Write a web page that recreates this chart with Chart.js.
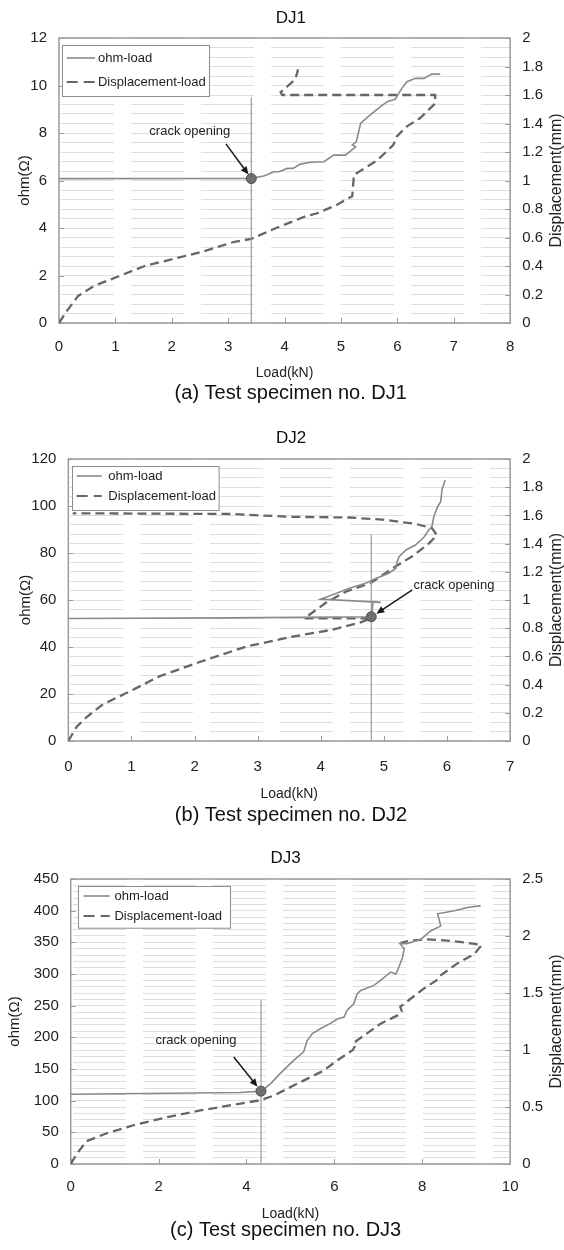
<!DOCTYPE html>
<html>
<head>
<meta charset="utf-8">
<script src="https://cdn.jsdelivr.net/npm/chart.js@4.4.1/dist/chart.umd.min.js"></script>
<style>
body{margin:0;background:#fff;}
canvas{display:block;}
</style>
</head>
<body>
<canvas id="dj1" width="564" height="410"></canvas>
<canvas id="dj2" width="564" height="420"></canvas>
<canvas id="dj3" width="564" height="420"></canvas>
<script>
var FONT = '"Liberation Sans", Arial, Helvetica, sans-serif';
Chart.defaults.font.family = FONT;
Chart.defaults.color = '#222';

var OHM_COLOR = '#8a8a8a';
var DISP_COLOR = '#666666';

// DJ1
var dj1OhmLoad  = [0, 3.41, 3.63, 3.70, 3.81, 3.90, 4.05, 4.15, 4.28, 4.46, 4.70, 4.87, 5.08, 5.26, 5.20, 5.27, 5.35, 5.52, 5.70, 5.82, 5.96, 6.08, 6.17, 6.32, 6.47, 6.61, 6.76];
var dj1Ohm      = [6.08, 6.09, 6.19, 6.25, 6.37, 6.37, 6.51, 6.51, 6.69, 6.77, 6.79, 7.07, 7.07, 7.42, 7.50, 7.62, 8.41, 8.76, 9.11, 9.32, 9.42, 9.88, 10.16, 10.30, 10.30, 10.48, 10.48];
var dj1DispLoad = [0, 0.15, 0.34, 0.62, 1.07, 1.52, 2.03, 2.54, 3.11, 3.41, 3.81, 4.38, 4.58, 4.93, 5.20, 5.23, 5.64, 5.93, 5.99, 6.17, 6.41, 6.67, 6.67, 3.96, 3.93, 4.05, 4.19, 4.24];
var dj1Disp     = [0, 0.09, 0.19, 0.26, 0.33, 0.40, 0.45, 0.50, 0.57, 0.59, 0.66, 0.75, 0.77, 0.83, 0.89, 1.04, 1.14, 1.25, 1.31, 1.38, 1.44, 1.54, 1.60, 1.60, 1.62, 1.66, 1.71, 1.78];
var dj1Crack    = [3.41, 6.08];
var dj1CrackTop = 9.5;

// DJ2
var dj2OhmLoad  = [0, 2.55, 4.80, 4.83, 4.95, 4.00, 4.24, 4.45, 4.71, 4.87, 5.08, 5.19, 5.21, 5.24, 5.35, 5.50, 5.64, 5.71, 5.76, 5.79, 5.85, 5.90, 5.92, 5.97];
var dj2Ohm      = [52.1, 52.4, 52.9, 59.3, 59.0, 60.4, 62.8, 65.0, 67.1, 69.2, 71.4, 73.5, 76.3, 78.4, 81.3, 83.4, 86.9, 89.8, 91.2, 95.4, 99.7, 101.8, 106.8, 111.1];
var dj2DispLoad = [0, 0.13, 0.29, 0.55, 0.92, 1.45, 2.08, 2.82, 3.55, 4.19, 4.62, 4.80, 3.74, 4.08, 4.40, 4.79, 5.19, 5.45, 5.71, 5.84, 5.76, 5.50, 4.98, 4.45, 3.50, 2.60, 0.07];
var dj2Disp     = [0, 0.10, 0.17, 0.26, 0.34, 0.46, 0.56, 0.67, 0.74, 0.79, 0.84, 0.87, 0.87, 0.98, 1.06, 1.12, 1.24, 1.31, 1.40, 1.46, 1.51, 1.54, 1.57, 1.585, 1.59, 1.61, 1.615];
var dj2Crack    = [4.80, 52.9];
var dj2CrackTop = 88;

// DJ3
var dj3OhmLoad  = [0, 3.86, 4.33, 4.55, 4.77, 5.08, 5.30, 5.38, 5.50, 5.69, 5.91, 6.07, 6.22, 6.29, 6.44, 6.52, 6.60, 6.90, 7.05, 7.28, 7.40, 7.47, 7.55, 7.59, 7.49, 7.65, 7.97, 8.19, 8.42, 8.35, 8.73, 9.03, 9.33];
var dj3Ohm      = [110.2, 112.9, 115, 127, 143, 164, 177, 195, 206, 214, 222, 229, 232, 243, 253, 269, 274, 282, 290, 303, 300, 311, 326, 340, 348, 348, 355, 368, 376, 395, 400, 405, 408];
var dj3DispLoad = [0, 0.14, 0.36, 0.82, 1.43, 2.19, 2.95, 3.71, 4.32, 4.62, 5.08, 5.76, 6.07, 6.42, 6.46, 6.43, 7.05, 7.47, 7.53, 7.50, 8.04, 8.36, 8.40, 8.80, 9.18, 9.35, 9.03, 8.57, 8.12, 7.74, 7.51];
var dj3Disp     = [0, 0.09, 0.20, 0.27, 0.34, 0.41, 0.47, 0.52, 0.56, 0.60, 0.69, 0.82, 0.91, 1.00, 1.03, 1.06, 1.23, 1.31, 1.34, 1.38, 1.54, 1.62, 1.65, 1.76, 1.84, 1.92, 1.94, 1.96, 1.97, 1.96, 1.94];
var dj3Crack    = [4.33, 115];
var dj3CrackTop = 259;

function pts(xs, ys){
	var out = [];
	for (var i = 0; i < xs.length; i++) out.push({x: xs[i], y: ys[i]});
	return out;
}

function isMajor(v, step){
	return Math.abs(v / step - Math.round(v / step)) < 1e-6;
}

function numLabel(v){
	return String(Math.round(v * 100) / 100);
}

// frame, inward ticks, legend box, note + arrow, right axis title
var decor = {
	id: 'decor',
	beforeDatasetsDraw: function(chart, args, o){
		var a = chart.chartArea, ctx = chart.ctx;
		var sx = chart.scales.x, sy = chart.scales.y, sy1 = chart.scales.y1;
		ctx.save();
		ctx.strokeStyle = '#9a9a9a';
		ctx.lineWidth = 1;
		ctx.beginPath();
		sx.ticks.forEach(function(t){
			var p = Math.round(sx.getPixelForValue(t.value)) + 0.5;
			ctx.moveTo(p, a.bottom); ctx.lineTo(p, a.bottom - 5);
		});
		sy.ticks.forEach(function(t){
			if (!isMajor(t.value, o.yMajor)) return;
			var p = Math.round(sy.getPixelForValue(t.value)) + 0.5;
			ctx.moveTo(a.left, p); ctx.lineTo(a.left + 5, p);
		});
		sy1.ticks.forEach(function(t){
			var p = Math.round(sy1.getPixelForValue(t.value)) + 0.5;
			ctx.moveTo(a.right, p); ctx.lineTo(a.right - 5, p);
		});
		ctx.stroke();
		ctx.lineWidth = 1.5;
		ctx.strokeRect(a.left, a.top, a.right - a.left, a.bottom - a.top);
		ctx.restore();
	},
	afterDatasetsDraw: function(chart, args, o){
		var a = chart.chartArea, ctx = chart.ctx;
		var sx = chart.scales.x, sy = chart.scales.y;
		var L = o.legend;
		var ds = chart.data.datasets;
		ctx.save();

		// legend
		var lx = Math.round(a.left + L.x) + 0.5, ly = Math.round(a.top + L.y) + 0.5;
		ctx.fillStyle = '#fff';
		ctx.fillRect(lx, ly, L.w, L.h);
		ctx.strokeStyle = '#8c8c8c';
		ctx.lineWidth = 1;
		ctx.strokeRect(lx, ly, L.w, L.h);
		ctx.strokeStyle = OHM_COLOR;
		ctx.lineWidth = 1.6;
		ctx.beginPath();
		ctx.moveTo(a.left + L.lineX1, a.top + L.row1);
		ctx.lineTo(a.left + L.lineX2, a.top + L.row1);
		ctx.stroke();
		ctx.strokeStyle = DISP_COLOR;
		ctx.lineWidth = 2.2;
		ctx.setLineDash([11, 6]);
		ctx.beginPath();
		ctx.moveTo(a.left + L.lineX1, a.top + L.row2);
		ctx.lineTo(a.left + L.lineX2, a.top + L.row2);
		ctx.stroke();
		ctx.setLineDash([]);
		ctx.fillStyle = '#222';
		ctx.font = '13px ' + FONT;
		ctx.textAlign = 'left';
		ctx.textBaseline = 'middle';
		ctx.fillText(ds[1].label, a.left + L.textX, a.top + L.row1);
		ctx.fillText(ds[3].label, a.left + L.textX, a.top + L.row2);

		// crack opening note
		var n = o.note;
		ctx.textAlign = 'center';
		ctx.fillText(n.text, sx.getPixelForValue(n.x), sy.getPixelForValue(n.y));
		var x1 = sx.getPixelForValue(n.fromX), y1 = sy.getPixelForValue(n.fromY);
		var x2 = sx.getPixelForValue(n.toX), y2 = sy.getPixelForValue(n.toY);
		var ang = Math.atan2(y2 - y1, x2 - x1);
		ctx.strokeStyle = '#1a1a1a';
		ctx.lineWidth = 1.5;
		ctx.beginPath();
		ctx.moveTo(x1, y1);
		ctx.lineTo(x2 - 6 * Math.cos(ang), y2 - 6 * Math.sin(ang));
		ctx.stroke();
		ctx.fillStyle = '#1a1a1a';
		ctx.beginPath();
		ctx.moveTo(x2, y2);
		ctx.lineTo(x2 - 8 * Math.cos(ang) + 3.5 * Math.sin(ang), y2 - 8 * Math.sin(ang) - 3.5 * Math.cos(ang));
		ctx.lineTo(x2 - 8 * Math.cos(ang) - 3.5 * Math.sin(ang), y2 - 8 * Math.sin(ang) + 3.5 * Math.cos(ang));
		ctx.closePath();
		ctx.fill();

		// right axis title reads bottom-to-top like the left one
		ctx.fillStyle = '#222';
		ctx.font = '16px ' + FONT;
		ctx.translate(chart.width - o.rightTitleInset, (a.top + a.bottom) / 2);
		ctx.rotate(-Math.PI / 2);
		ctx.textAlign = 'center';
		ctx.textBaseline = 'middle';
		ctx.fillText(o.rightTitle, 0, 0);
		ctx.restore();
	}
};

function makeChart(id, c){
	return new Chart(document.getElementById(id), {
		type: 'scatter',
		data: {
			datasets: [
				{
					label: 'crack',
					data: [{x: c.crack[0], y: c.crack[1]}],
					yAxisID: 'y',
					showLine: false,
					pointRadius: 5,
					pointBackgroundColor: '#707070',
					pointBorderColor: '#505050',
					pointBorderWidth: 1
				},
				{
					label: 'ohm-load',
					data: pts(c.ohmX, c.ohmY),
					yAxisID: 'y',
					showLine: true,
					borderColor: OHM_COLOR,
					borderWidth: 1.6,
					pointRadius: 0,
					tension: 0
				},
				{
					label: 'crack line',
					data: [{x: c.crack[0], y: 0}, {x: c.crack[0], y: c.crackTop}],
					yAxisID: 'y',
					showLine: true,
					borderColor: '#9c9c9c',
					borderWidth: 1.2,
					pointRadius: 0
				},
				{
					label: 'Displacement-load',
					data: pts(c.dispX, c.dispY),
					yAxisID: 'y1',
					showLine: true,
					borderColor: DISP_COLOR,
					borderWidth: 2.3,
					borderDash: [9, 5],
					pointRadius: 0,
					tension: 0
				}
			]
		},
		options: {
			responsive: false,
			animation: false,
			devicePixelRatio: 1,
			layout: {padding: {left: c.padLeft, right: 0, top: 0, bottom: 0}},
			scales: {
				x: {
					type: 'linear',
					min: 0,
					max: c.xMax,
					ticks: {stepSize: c.xStep, padding: c.xTickPad, font: {size: 15}, color: '#222', callback: numLabel},
					grid: {display: false, drawTicks: false},
					border: {display: false},
					title: {display: true, text: 'Load(kN)', font: {size: 14}, color: '#222', padding: {top: c.xTitlePad, bottom: 0}}
				},
				y: {
					type: 'linear',
					position: 'left',
					min: 0,
					max: c.yMax,
					ticks: {
						stepSize: c.yMinor,
						autoSkip: false,
						maxTicksLimit: 1000,
						padding: 12,
						font: {size: 15},
						color: '#222',
						callback: function(v){ return isMajor(v, c.yMajor) ? numLabel(v) : ''; }
					},
					grid: {color: '#dedede', lineWidth: 1, drawTicks: false},
					border: {display: false, dash: [53, 17], dashOffset: 68},
					title: {display: true, text: 'ohm(Ω)', font: {size: 15, lineHeight: 1}, color: '#222', padding: {top: 0, bottom: c.yTitlePadB}}
				},
				y1: {
					type: 'linear',
					position: 'right',
					min: 0,
					max: c.y1Max,
					ticks: {stepSize: c.y1Step, padding: 12, font: {size: 15}, color: '#222', callback: numLabel},
					grid: {display: false, drawTicks: false},
					border: {display: false},
					afterFit: function(s){ s.width += 9; }
				}
			},
			plugins: {
				legend: {display: false},
				tooltip: {enabled: false},
				title: {display: true, text: c.title, font: {size: 17, weight: 'normal'}, color: '#111', padding: {top: c.titlePadT, bottom: c.titlePadB}},
				subtitle: {display: true, text: c.caption, position: 'bottom', font: {size: 20}, color: '#111', padding: {top: c.capPadT, bottom: c.capPadB}},
				decor: {
					yMajor: c.yMajor,
					legend: c.legend,
					note: c.note,
					rightTitle: 'Displacement(mm)',
					rightTitleInset: 7.5
				}
			}
		},
		plugins: [decor]
	});
}

makeChart('dj1', {
	title: 'DJ1', caption: '(a) Test specimen no. DJ1',
	xMax: 8, xStep: 1, yMax: 12, yMinor: 0.4, yMajor: 2, y1Max: 2, y1Step: 0.2,
	ohmX: dj1OhmLoad, ohmY: dj1Ohm, dispX: dj1DispLoad, dispY: dj1Disp,
	crack: dj1Crack, crackTop: dj1CrackTop,
	padLeft: 17.5, yTitlePadB: -14.2, titlePadT: 7.8, titlePadB: 9.8,
	xTickPad: 15, xTitlePad: -6.4, capPadT: 0, capPadB: 4.6,
	legend: {x: 3, y: 7, w: 147, h: 51, row1: 20, row2: 44, lineX1: 7.7, lineX2: 36, textX: 39},
	note: {text: 'crack opening', x: 2.32, y: 8.05, fromX: 2.96, fromY: 7.54, toX: 3.36, toY: 6.25}
});

makeChart('dj2', {
	title: 'DJ2', caption: '(b) Test specimen no. DJ2',
	xMax: 7, xStep: 1, yMax: 120, yMinor: 4, yMajor: 20, y1Max: 2, y1Step: 0.2,
	ohmX: dj2OhmLoad, ohmY: dj2Ohm, dispX: dj2DispLoad, dispY: dj2Disp,
	crack: dj2Crack, crackTop: dj2CrackTop,
	padLeft: 18, yTitlePadB: -13.7, titlePadT: 17.8, titlePadB: 10.8,
	xTickPad: 17, xTitlePad: -7.4, capPadT: 0.6, capPadB: 3,
	legend: {x: 3.4, y: 7, w: 146.6, h: 44, row1: 17, row2: 37, lineX1: 8.4, lineX2: 33.4, textX: 40},
	note: {text: 'crack opening', x: 6.11, y: 66.4, fromX: 5.45, fromY: 64.3, toX: 4.88, toY: 54.2}
});

makeChart('dj3', {
	title: 'DJ3', caption: '(c) Test specimen no. DJ3',
	xMax: 10, xStep: 2, yMax: 450, yMinor: 10, yMajor: 50, y1Max: 2.5, y1Step: 0.5,
	ohmX: dj3OhmLoad, ohmY: dj3Ohm, dispX: dj3DispLoad, dispY: dj3Disp,
	crack: dj3Crack, crackTop: dj3CrackTop,
	padLeft: 7.2, yTitlePadB: -0.5, titlePadT: 17.8, titlePadB: 10.8,
	xTickPad: 14, xTitlePad: -4.4, capPadT: -3.7, capPadB: 7.3,
	legend: {x: 7.7, y: 6.7, w: 152, h: 41.7, row1: 17, row2: 37, lineX1: 12.8, lineX2: 39, textX: 43.7},
	note: {text: 'crack opening', x: 2.85, y: 195, fromX: 3.71, fromY: 169, toX: 4.25, toY: 122}
});
</script>
</body>
</html>
